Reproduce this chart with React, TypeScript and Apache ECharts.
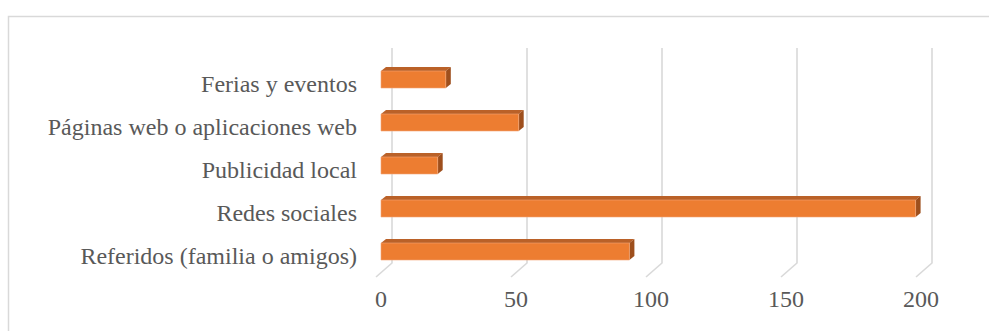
import React, { useEffect, useRef } from "react";
import * as echarts from "echarts";

// Categories listed bottom-to-top (category axis starts at the bottom)
const categories = [
  "Referidos (familia o amigos)",
  "Redes sociales",
  "Publicidad local",
  "Páginas web o aplicaciones web",
  "Ferias y eventos",
];
const values = [92, 198, 21, 51, 24];
const xTicks = [0, 50, 100, 150, 200];

const FONT = '"Liberation Serif", "Times New Roman", serif';
const TEXT_COLOR = "#595959";
const GRID_COLOR = "#d9d9d9";

// 3D look: bar depth and back-wall / floor offsets in pixels
const BAR_H = 17;
const DEPTH_X = 5;
const DEPTH_Y = 4;
const WALL_DX = 11;
const FLOOR_DX = -16;
const FLOOR_DY = 14;

export default function App() {
  const ref = useRef<HTMLDivElement>(null);

  useEffect(() => {
    if (!ref.current) return;
    const chart = echarts.init(ref.current, undefined, { renderer: "svg" });

    const option: any = {
      animation: false,
      backgroundColor: "#ffffff",
      grid: { left: 381, right: 68, top: 58, bottom: 58, containLabel: false },
      xAxis: {
        type: "value",
        min: 0,
        max: 200,
        interval: 50,
        axisLine: { show: false },
        axisTick: { show: false },
        splitLine: { show: false },
        axisLabel: {
          fontFamily: FONT,
          fontSize: 24,
          color: TEXT_COLOR,
          margin: 14,
        },
      },
      yAxis: {
        type: "category",
        data: categories,
        axisLine: { show: false },
        axisTick: { show: false },
        splitLine: { show: false },
        axisLabel: {
          fontFamily: FONT,
          fontSize: 24,
          color: TEXT_COLOR,
          margin: 24,
          // labels sit a little below the bar centres (front floor plane)
          verticalAlign: "top",
          lineHeight: 8,
        },
      },
      graphic: [
        {
          type: "rect",
          left: 6,
          top: 14,
          shape: { width: 1100, height: 500 },
          style: { fill: "none", stroke: GRID_COLOR, lineWidth: 1.5 },
          z: -10,
        },
      ],
      series: [
        {
          // back-wall gridlines with their slanted floor segments
          type: "custom",
          clip: false,
          silent: true,
          z: 1,
          data: xTicks.map((v) => [v]),
          encode: { x: 0 },
          renderItem: (params: any, api: any) => {
            const cs = params.coordSys;
            const x = api.coord([api.value(0), 0])[0] + WALL_DX;
            const top = cs.y - 10;
            const bottom = cs.y + cs.height - 10;
            return {
              type: "polyline",
              shape: {
                points: [
                  [x, top],
                  [x, bottom],
                  [x + FLOOR_DX, bottom + FLOOR_DY],
                ],
              },
              style: { stroke: GRID_COLOR, lineWidth: 1.6, fill: "none" },
            };
          },
        },
        {
          type: "custom",
          clip: false,
          z: 2,
          data: values.map((v, i) => [v, i]),
          encode: { x: 0, y: 1 },
          renderItem: (params: any, api: any) => {
            const end = api.coord([api.value(0), api.value(1)]);
            const start = api.coord([0, api.value(1)]);
            const x0 = start[0];
            const x1 = end[0];
            const top = end[1] - BAR_H / 2;
            const bottom = top + BAR_H;
            return {
              type: "group",
              children: [
                {
                  type: "polygon",
                  shape: {
                    points: [
                      [x0, top],
                      [x0 + DEPTH_X, top - DEPTH_Y],
                      [x1 + DEPTH_X, top - DEPTH_Y],
                      [x1, top],
                    ],
                  },
                  style: { fill: "#BA6128" },
                },
                {
                  type: "polygon",
                  shape: {
                    points: [
                      [x1, top],
                      [x1 + DEPTH_X, top - DEPTH_Y],
                      [x1 + DEPTH_X, bottom - DEPTH_Y],
                      [x1, bottom],
                    ],
                  },
                  style: { fill: "#9E4F1D" },
                },
                {
                  type: "rect",
                  shape: { x: x0, y: top, width: x1 - x0, height: BAR_H },
                  style: { fill: "#ED7D31", stroke: "#F4A677", lineWidth: 0.6 },
                },
              ],
            };
          },
        },
      ],
    };

    chart.setOption(option);
    return () => chart.dispose();
  }, []);

  return (
    <div
      ref={ref}
      style={{
        position: "fixed",
        left: 0,
        top: 0,
        width: 989,
        height: 331,
        background: "#ffffff",
      }}
    />
  );
}
